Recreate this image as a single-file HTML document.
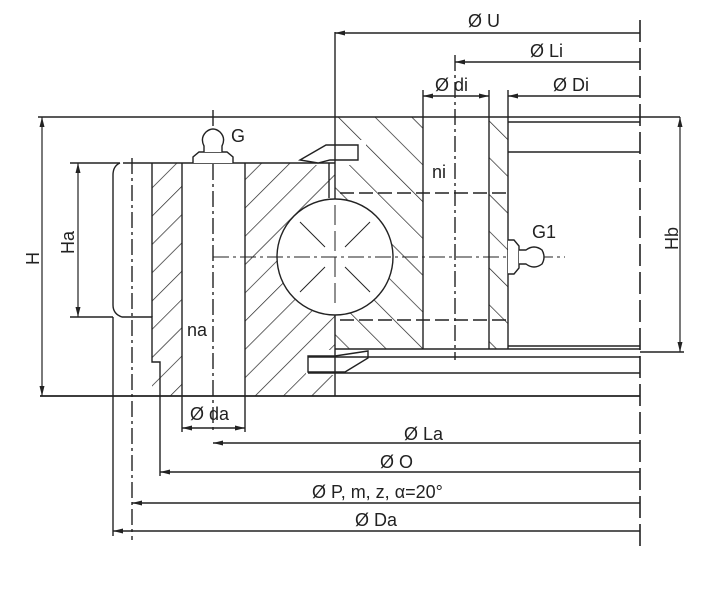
<!DOCTYPE html>
<html><head><meta charset="utf-8"><style>
html,body{margin:0;padding:0;background:#fff;}
svg{display:block;}
text{font-family:"Liberation Sans",sans-serif;font-size:18px;fill:#222;}
</style></head><body>
<svg width="722" height="597" viewBox="0 0 722 597" xmlns="http://www.w3.org/2000/svg">
<defs>
<pattern id="hf" width="20" height="20" patternUnits="userSpaceOnUse" patternTransform="rotate(45)">
<line x1="0" y1="0" x2="0" y2="20" stroke="#222" stroke-width="1.4"/></pattern>
<pattern id="hb" width="26" height="26" patternUnits="userSpaceOnUse" patternTransform="rotate(-45)">
<line x1="0" y1="0" x2="0" y2="26" stroke="#222" stroke-width="1.4"/></pattern>
<marker id="ar" viewBox="0 0 10 6" refX="10" refY="3" markerWidth="10" markerHeight="6" markerUnits="userSpaceOnUse" orient="auto-start-reverse"><path d="M0,0.5 L10,3 L0,5.5 Z" fill="#222" stroke="none"/></marker>
</defs>
<g stroke="#222" stroke-width="1.4" fill="none">
<rect x="152" y="163" width="30" height="233" fill="url(#hf)" stroke="none"/>
<rect x="245" y="163" width="90" height="233" fill="url(#hf)" stroke="none"/>
<rect x="335" y="117" width="88" height="232" fill="url(#hb)" stroke="none"/>
<rect x="489" y="117" width="19" height="232" fill="url(#hb)" stroke="none"/>
<rect x="306" y="140" width="60" height="25" fill="#fff" stroke="none"/>
<rect x="306" y="350" width="70" height="25" fill="#fff" stroke="none"/>
<path d="M152,163 H335"/>
<path d="M123,163 H152 M120,163 Q113,166 113,175 V305 Q113,314 122,317 H152 V362 H160 V396"/>
<line x1="152" y1="163" x2="152" y2="317"/>
<line x1="182" y1="163" x2="182" y2="396"/>
<line x1="245" y1="163" x2="245" y2="396"/>
<line x1="40" y1="396" x2="640" y2="396" stroke-width="1.8"/>
<line x1="132" y1="158" x2="132" y2="540" stroke-dasharray="16,4,3,4"/>
<line x1="213" y1="110" x2="213" y2="430" stroke-dasharray="16,4,3,4"/>
<line x1="70" y1="317" x2="113" y2="317"/>
<path d="M300,160 L326,145 H358 V160 H330 L318,163 Z" fill="#fff"/>
<path d="M308,356 H335 L368,351 V358 L345,372 H308 Z" fill="#fff"/>
<line x1="335" y1="32" x2="335" y2="396"/>
<line x1="329" y1="163" x2="329" y2="198"/>
<line x1="38" y1="117" x2="680" y2="117"/>
<line x1="423" y1="90" x2="423" y2="349"/>
<line x1="489" y1="90" x2="489" y2="349"/>
<line x1="508" y1="90" x2="508" y2="349"/>
<line x1="455" y1="55" x2="455" y2="360" stroke-dasharray="16,4,3,4"/>
<line x1="335" y1="349" x2="640" y2="349"/>
<line x1="508" y1="122" x2="640" y2="122"/>
<line x1="508" y1="152" x2="640" y2="152"/>
<line x1="508" y1="346" x2="640" y2="346"/>
<line x1="308" y1="357" x2="640" y2="357"/>
<line x1="308" y1="373" x2="640" y2="373"/>
<line x1="340" y1="193" x2="508" y2="193" stroke-dasharray="14,5"/>
<line x1="340" y1="320" x2="508" y2="320" stroke-dasharray="14,5"/>
<circle cx="335" cy="257" r="58" fill="#fff"/>
<g stroke-width="1">
<line x1="335" y1="205" x2="335" y2="309" stroke-dasharray="20,6"/>
<line x1="300" y1="222" x2="325" y2="247"/><line x1="345" y1="267" x2="370" y2="292"/>
<line x1="370" y1="222" x2="345" y2="247"/><line x1="325" y1="267" x2="300" y2="292"/>
</g>
<line x1="213" y1="257" x2="565" y2="257" stroke-dasharray="16,4,3,4" stroke-width="1.1"/>
<line x1="640" y1="20" x2="640" y2="552" stroke-dasharray="22,6" stroke-width="1.6"/>
<path d="M193,163 V157 L199,152 H227 L233,157 V163" fill="#fff"/>
<path d="M204,152 V146 Q200,138 206,132 Q213,126 220,132 Q226,138 222,146 V152" fill="#fff"/>
<path d="M508,240 H514 L519,246 V268 L514,274 H508" fill="#fff"/>
<path d="M519,250 H526 Q534,244 542,250 Q546,257 542,264 Q534,270 526,264 H519" fill="#fff"/>
<line x1="42" y1="117" x2="42" y2="396" marker-start="url(#ar)" marker-end="url(#ar)" stroke-width="1.2"/>
<line x1="78" y1="163" x2="78" y2="317" marker-start="url(#ar)" marker-end="url(#ar)" stroke-width="1.2"/>
<line x1="70" y1="163" x2="120" y2="163"/>
<line x1="680" y1="117" x2="680" y2="352" marker-start="url(#ar)" marker-end="url(#ar)" stroke-width="1.2"/>
<line x1="640" y1="352" x2="684" y2="352"/>
<line x1="335" y1="33" x2="640" y2="33" marker-start="url(#ar)"/>
<line x1="455" y1="62" x2="640" y2="62" marker-start="url(#ar)"/>
<line x1="423" y1="96" x2="489" y2="96" marker-start="url(#ar)" marker-end="url(#ar)"/>
<line x1="508" y1="96" x2="640" y2="96" marker-start="url(#ar)"/>
<line x1="182" y1="396" x2="182" y2="432"/>
<line x1="245" y1="396" x2="245" y2="432"/>
<line x1="182" y1="428" x2="245" y2="428" marker-start="url(#ar)" marker-end="url(#ar)"/>
<line x1="213" y1="443" x2="640" y2="443" marker-start="url(#ar)"/>
<line x1="160" y1="396" x2="160" y2="476"/>
<line x1="160" y1="472" x2="640" y2="472" marker-start="url(#ar)"/>
<line x1="132" y1="503" x2="640" y2="503" marker-start="url(#ar)"/>
<line x1="113" y1="317" x2="113" y2="536"/>
<line x1="113" y1="531" x2="640" y2="531" marker-start="url(#ar)"/>
</g>
<text x="468" y="27">Ø U</text>
<text x="530" y="57">Ø Li</text>
<text x="435" y="91">Ø di</text>
<text x="553" y="91">Ø Di</text>
<text x="231" y="142">G</text>
<text x="432" y="178">ni</text>
<text x="532" y="238">G1</text>
<text x="187" y="336">na</text>
<text x="190" y="420">Ø da</text>
<text x="404" y="440">Ø La</text>
<text x="380" y="468">Ø O</text>
<text x="312" y="498">Ø P, m, z, α=20°</text>
<text x="355" y="526">Ø Da</text>
<text transform="translate(39,265) rotate(-90)">H</text>
<text transform="translate(74,254) rotate(-90)">Ha</text>
<text transform="translate(678,250) rotate(-90)">Hb</text>
</svg>
</body></html>
